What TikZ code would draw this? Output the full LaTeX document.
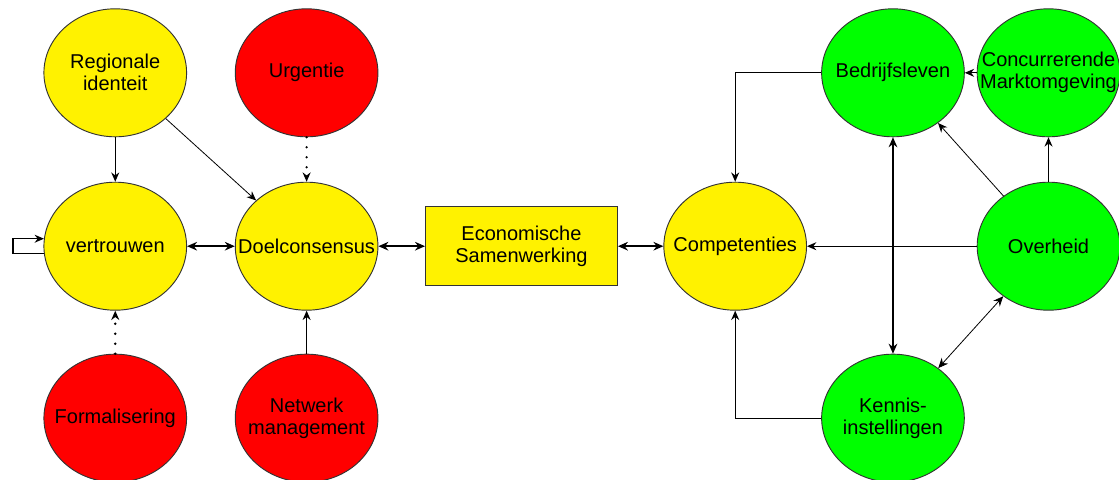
\documentclass[tikz,border=0pt]{standalone}
\usepackage{fontspec}
\setmainfont{Liberation Sans}
\usetikzlibrary{shapes.geometric,arrows.meta}

\tikzset{
  factor/.style={ellipse, draw=black!80, line width=0.7pt, minimum width=107pt,
    minimum height=96pt, inner sep=0pt},
  positive/.style={factor, fill=yellow},
  barrier/.style={factor, fill=red},
  actor/.style={factor, fill=green},
  goalbox/.style={rectangle, draw=black!80, line width=0.7pt, fill=yellow,
    minimum width=144pt, minimum height=59pt},
  caption/.style={align=center, inner sep=0pt, font=\fontsize{15}{16.5}\selectfont},
  link/.style={-{Stealth[length=7pt,width=6pt]}, line width=0.9pt},
  thinlink/.style={link, line width=0.6pt},
  mutual/.style={{Stealth[length=7.5pt,width=6.5pt]}-{Stealth[length=7.5pt,width=6.5pt]}, line width=1.1pt},
  thinmutual/.style={mutual, line width=0.6pt},
  weak/.style={link, line width=2pt, line cap=round, dash pattern=on 0pt off 7.5pt}
}

\begin{document}
\begin{tikzpicture}[x=0.75pt,y=0.75pt]

    \coordinate (width)  at (1119,0);
    \coordinate (height) at (0,479);

    \useasboundingbox (0,0) rectangle (width |- height);

    \path (0,0) -- (height)
    coordinate[pos=0.127] (bottom row)
    coordinate[pos=0.486] (middle row)
    coordinate[pos=0.848] (top row);

    \path (0,0) -- (width)
    coordinate[pos=0.103] (trust col)
    coordinate[pos=0.274] (goal col)
    coordinate[pos=0.466] (coop col)
    coordinate[pos=0.657] (comp col)
    coordinate[pos=0.798] (business col)
    coordinate[pos=0.937] (gov col);

    \node[positive] (Identity)   at (trust col |- top row)       {};
    \node[barrier]  (Urgency)    at (goal col |- top row)        {};
    \node[positive] (Trust)      at (trust col |- middle row)    {};
    \node[positive] (Consensus)  at (goal col |- middle row)     {};
    \node[barrier]  (Formal)     at (trust col |- bottom row)    {};
    \node[barrier]  (Network)    at (goal col |- bottom row)     {};
    \node[goalbox]  (Coop)       at (coop col |- middle row)     {};
    \node[positive] (Skills)     at (comp col |- middle row)     {};
    \node[actor]    (Business)   at (business col |- top row)    {};
    \node[actor]    (Market)     at (gov col |- top row)         {};
    \node[actor]    (Government) at (gov col |- middle row)      {};
    \node[actor]    (Knowledge)  at (business col |- bottom row) {};

    \node[caption] (Identity text)   at (Identity)   {Regionale\\identeit};
    \node[caption] (Urgency text)    at (Urgency)    {Urgentie};
    \node[caption] (Trust text)      at (Trust)      {vertrouwen};
    \node[caption] (Consensus text)  at (Consensus)  {Doelconsensus};
    \node[caption] (Formal text)     at (Formal)     {Formalisering};
    \node[caption] (Network text)    at (Network)    {Netwerk\\management};
    \node[caption] (Coop text)       at (Coop)       {Economische\\Samenwerking};
    \node[caption] (Skills text)     at (Skills)     {Competenties};
    \node[caption] (Business text)   at (Business)   {Bedrijfsleven};
    \node[caption] (Market text)     at (Market)     {Concurrerende\\Marktomgeving};
    \node[caption] (Government text) at (Government) {Overheid};
    \node[caption] (Knowledge text)  at (Knowledge)  {Kennis-\\instellingen};

    \draw[link] (Trust.186) -- ++(-31,0) |- (Trust.174);
    \draw[link] (Identity) -- (Trust);
    \draw[thinlink] (Identity) -- (Consensus);
    \draw[weak] (Urgency) -- (Consensus);
    \draw[weak] (Formal) -- (Trust);
    \draw[link] (Network) -- (Consensus);
    \draw[mutual] (Trust) -- (Consensus);
    \draw[mutual] (Consensus) -- (Coop);
    \draw[mutual] (Coop) -- (Skills);

    \draw[link] (Business.west) -| (Skills.north);
    \draw[link] (Knowledge.west) -| (Skills.south);
    \draw[mutual] (Business) -- (Knowledge);
    \draw[link] (Market) -- (Business);
    \draw[link] (Government) -- (Market);
    \draw[thinlink] (Government) -- (Business);
    \draw[link] (Government) -- (Skills);
    \draw[thinmutual] (Government) -- (Knowledge);
  \end{tikzpicture}
\end{document}
